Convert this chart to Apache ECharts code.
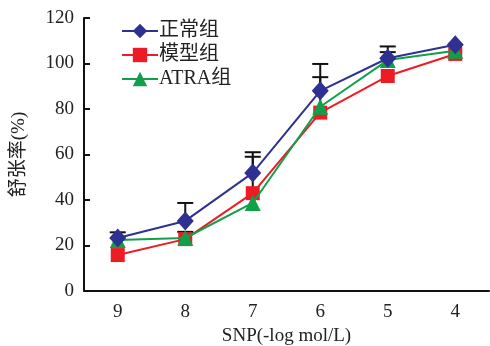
<!DOCTYPE html>
<html><head><meta charset="utf-8">
<script src="https://cdn.jsdelivr.net/npm/echarts@6/dist/echarts.min.js"></script>
<style>html,body{margin:0;padding:0;background:#fff}#c{width:490px;height:346px}</style>
</head><body><div id="c"></div>
<script>
const categories = ['9','8','7','6','5','4'];
const normal = [23.3, 30.8, 51.9, 88, 102.3, 108.2];
const model = [15.8, 22.8, 43, 78.4, 94.5, 104.2];
const atra = [22.4, 23.3, 38.7, 81, 101.5, 105.6];
const normalErrTop = [25.8, 38.7, 61, 99.8, 107.5, null];
const otherErrTop = [null, 26, 59, 94, 105, null];
const names = ['正常组','模型组','ATRA组'];
const colors = ['#2E3192','#ED1C24','#11A04A'];
const font = '"Liberation Serif","Times New Roman","Noto Sans CJK SC",serif';

function errSeries(base, tops) {
  return {
    type: 'custom', silent: true, z: 1,
    data: tops.map((t,i)=> t==null ? null : [i, base[i], t]).filter(d=>d),
    renderItem: function(params, api) {
      const x = api.value(0);
      const p0 = api.coord([x, api.value(1)]);
      const p1 = api.coord([x, api.value(2)]);
      const w = 8;
      return {type:'group', children:[
        {type:'line', shape:{x1:p0[0],y1:p0[1],x2:p1[0],y2:p1[1]}, style:{stroke:'#111',lineWidth:2}},
        {type:'line', shape:{x1:p1[0]-w,y1:p1[1],x2:p1[0]+w,y2:p1[1]}, style:{stroke:'#111',lineWidth:2}}
      ]};
    }
  };
}

const chart = echarts.init(document.getElementById('c'));
chart.setOption({
  animation: false,
  textStyle: {fontFamily: font},
  grid: {left: 84, right: 1, top: 18, bottom: 55, containLabel: false, outerBoundsMode: 'none'},
  legend: {
    data: names, orient: 'vertical', left: 116, top: 16, itemWidth: 36, itemHeight: 18, itemGap: 4,
    textStyle: {fontFamily: font, fontSize: 20, color: '#222', padding:[0,0,0,-4]}
  },
  xAxis: {
    type: 'category', data: categories, boundaryGap: true,
    name: 'SNP(-log mol/L)', nameLocation: 'middle', nameGap: 36,
    nameTextStyle: {fontFamily: font, fontSize: 19, color: '#222'},
    axisLine: {lineStyle: {color: '#111', width: 2}},
    axisTick: {inside: true, length: 6, lineStyle: {width: 2, color:'#111'}},
    axisLabel: {fontFamily: font, fontSize: 19, color: '#222', margin: 12}
  },
  yAxis: {
    type: 'value', min: 0, max: 120, interval: 20,
    name: '舒张率(%)', nameLocation: 'middle', nameGap: 55,
    nameTextStyle: {fontFamily: font, fontSize: 19, color: '#222'},
    axisLine: {show: true, lineStyle: {color: '#111', width: 2}},
    axisTick: {show: true, inside: true, length: 6, lineStyle: {width: 2, color:'#111'}},
    axisLabel: {fontFamily: font, fontSize: 19, color: '#222', margin: 10},
    splitLine: {show: false}
  },
  series: [
    errSeries(normal, normalErrTop),
    errSeries(atra, otherErrTop),
    {name: names[1], type: 'line', data: model, z: 3, symbol: 'rect', symbolSize: 14,
     lineStyle: {color: colors[1], width: 2}, itemStyle: {color: colors[1]}},
    {name: names[2], type: 'line', data: atra, z: 4, symbol: 'triangle', symbolSize: 16,
     lineStyle: {color: colors[2], width: 2}, itemStyle: {color: colors[2]}},
    {name: names[0], type: 'line', data: normal, z: 5, symbol: 'diamond', symbolSize: [17,19],
     lineStyle: {color: colors[0], width: 2}, itemStyle: {color: colors[0]}}
  ]
});
</script></body></html>
